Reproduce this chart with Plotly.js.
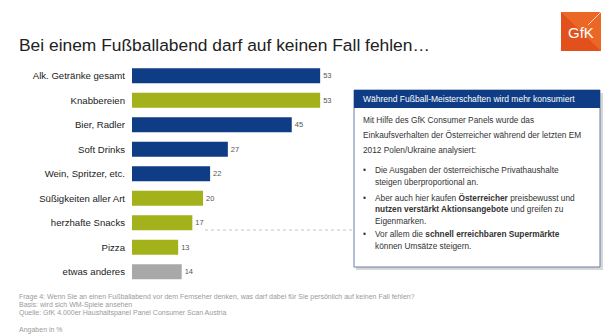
<!DOCTYPE html>
<html>
<head>
<meta charset="utf-8">
<script src="https://cdn.plot.ly/plotly-3.0.1.min.js"></script>
<style>
  html, body { margin: 0; padding: 0; background: #ffffff; }
  #chart { width: 616px; height: 336px; }
</style>
</head>
<body>
<div id="chart"></div>
<script>
// ---- data ----
var categories = [
  "Alk. Getränke gesamt",
  "Knabbereien",
  "Bier, Radler",
  "Soft Drinks",
  "Wein, Spritzer, etc.",
  "Süßigkeiten aller Art",
  "herzhafte Snacks",
  "Pizza",
  "etwas anderes"
];
var values = [53, 53, 45, 27, 22, 20, 17, 13, 14];
var groups = ["Getränke", "Snacks", "Getränke", "Getränke", "Getränke", "Snacks", "Snacks", "Snacks", "Sonstiges"];

var titleText = "Bei einem Fußballabend darf auf keinen Fall fehlen…";
var boxHeader = "Während Fußball-Meisterschaften wird mehr konsumiert";
var boxIntro = [
  "Mit Hilfe des GfK Consumer Panels wurde das",
  "Einkaufsverhalten der Österreicher während der letzten EM",
  "2012 Polen/Ukraine analysiert:"
];
var boxBullets = [
  ["Die Ausgaben der österreichische Privathaushalte", "steigen überproportional an."],
  ["Aber auch hier kaufen <b>Österreicher</b> preisbewusst und", "<b>nutzen verstärkt Aktionsangebote</b> und greifen zu", "Eigenmarken."],
  ["Vor allem die <b>schnell erreichbaren Supermärkte</b>", "können Umsätze steigern."]
];
var footerLines = [
  "Frage 4: Wenn Sie an einen Fußballabend vor dem Fernseher denken, was darf dabei für Sie persönlich auf keinen Fall fehlen?",
  "Basis: wird sich WM-Spiele ansehen",
  "Quelle: GfK 4.000er Haushaltspanel Panel Consumer Scan Austria"
];
var unitNote = "Angaben in %";

// ---- styling ----
var W = 616, H = 336;
function px(x) { return x / W; }
function py(y) { return 1 - y / H; }
var groupColors = { "Getränke": "#0e3d85", "Snacks": "#a3b11b", "Sonstiges": "#a8a8a8" };
var barColors = groups.map(function (g) { return groupColors[g]; });
var FONT = "Liberation Sans, Arial, sans-serif";

var trace = {
  type: "bar",
  orientation: "h",
  y: categories,
  x: values,
  text: values.map(String),
  textposition: "outside",
  cliponaxis: false,
  textfont: { family: FONT, size: 7.5, color: "#555555" },
  marker: { color: barColors, line: { width: 0 } },
  width: 0.61,
  hoverinfo: "none"
};

var shapes = [];
var annotations = [];

// dotted connector line
shapes.push({ type: "line", xref: "paper", yref: "paper",
  x0: px(205), x1: px(354), y0: py(230), y1: py(230),
  line: { color: "#c4c4c4", width: 1, dash: "dot" } });

// info box shadow
shapes.push({ type: "rect", xref: "paper", yref: "paper",
  x0: px(356), x1: px(603), y0: py(270), y1: py(93),
  fillcolor: "#bdbdbd", line: { width: 0 }, opacity: 0.6 });
// info box
shapes.push({ type: "rect", xref: "paper", yref: "paper",
  x0: px(354), x1: px(600), y0: py(267), y1: py(90),
  fillcolor: "#ffffff", line: { color: "#6a7fa6", width: 1 } });
// header band
shapes.push({ type: "rect", xref: "paper", yref: "paper",
  x0: px(354), x1: px(600), y0: py(108), y1: py(90),
  fillcolor: "#0e3d85", line: { width: 0 } });

// logo
shapes.push({ type: "rect", xref: "paper", yref: "paper",
  x0: px(561), x1: px(601), y0: py(51), y1: py(12),
  fillcolor: "#e2501c", line: { width: 0 } });
shapes.push({ type: "path", xref: "paper", yref: "paper",
  path: "M " + px(561) + "," + py(12) + " L " + px(601) + "," + py(12) + " L " + px(601) + "," + py(51) + " Z",
  fillcolor: "#f07a2e", opacity: 0.55, line: { width: 0 } });
shapes.push({ type: "line", xref: "paper", yref: "paper",
  x0: px(588), x1: px(601), y0: py(25), y1: py(12),
  line: { color: "#ffd9b8", width: 1 } });
annotations.push({ xref: "paper", yref: "paper", x: px(581), y: py(32),
  xanchor: "center", yanchor: "middle", showarrow: false,
  text: "GfK", font: { family: FONT, size: 15, color: "#ffffff" } });

// box header text
annotations.push({ xref: "paper", yref: "paper", x: px(361), y: py(99.5),
  xanchor: "left", yanchor: "middle", showarrow: false,
  text: boxHeader, font: { family: FONT, size: 8.5, color: "#ffffff" } });

// intro lines
var BODY = 8.3;
var introY = [120, 135, 150];
boxIntro.forEach(function (t, i) {
  annotations.push({ xref: "paper", yref: "paper", x: px(361), y: py(introY[i]),
    xanchor: "left", yanchor: "middle", showarrow: false,
    text: t, font: { family: FONT, size: BODY, color: "#333333" } });
});

// bullets
var bulletY = [[170, 181.5], [197.5, 209, 220.5], [234, 245.5]];
boxBullets.forEach(function (lines, b) {
  annotations.push({ xref: "paper", yref: "paper", x: px(361), y: py(bulletY[b][0]),
    xanchor: "left", yanchor: "middle", showarrow: false,
    text: "•", font: { family: FONT, size: BODY, color: "#333333" } });
  lines.forEach(function (t, i) {
    annotations.push({ xref: "paper", yref: "paper", x: px(372.5), y: py(bulletY[b][i]),
      xanchor: "left", yanchor: "middle", showarrow: false,
      text: t, font: { family: FONT, size: BODY, color: "#333333" } });
  });
});

// footer
var FOOT = 7.0;
var footY = [297, 305, 313];
footerLines.forEach(function (t, i) {
  annotations.push({ xref: "paper", yref: "paper", x: px(17), y: py(footY[i]),
    xanchor: "left", yanchor: "middle", showarrow: false,
    text: t, font: { family: FONT, size: FOOT, color: "#9a9a9a" } });
});
annotations.push({ xref: "paper", yref: "paper", x: px(17), y: py(330),
  xanchor: "left", yanchor: "middle", showarrow: false,
  text: unitNote, font: { family: FONT, size: FOOT, color: "#9a9a9a" } });

var layout = {
  width: W, height: H,
  margin: { l: 0, r: 0, t: 0, b: 0, pad: 0 },
  paper_bgcolor: "#ffffff",
  plot_bgcolor: "rgba(0,0,0,0)",
  showlegend: false,
  title: {
    text: titleText,
    x: px(19), xanchor: "left", xref: "container",
    y: py(45), yanchor: "middle", yref: "container",
    font: { family: FONT, size: 17.4, color: "#222222" }
  },
  xaxis: {
    domain: [px(132), px(345)],
    range: [0, 60],
    visible: false,
    fixedrange: true
  },
  yaxis: {
    domain: [py(284), py(63.5)],
    type: "category",
    range: [8.5, -0.5],
    showgrid: false, zeroline: false, showline: false,
    ticks: "",
    ticklabelstandoff: 6,
    tickfont: { family: FONT, size: 9.6, color: "#222222" },
    automargin: false,
    fixedrange: true
  },
  shapes: shapes,
  annotations: annotations
};

Plotly.newPlot("chart", [trace], layout, { displayModeBar: false, staticPlot: true });
</script>
</body>
</html>
